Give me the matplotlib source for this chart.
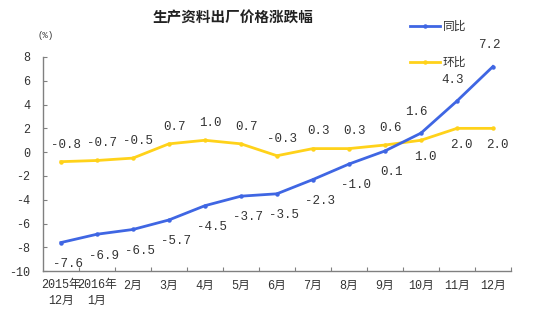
import matplotlib
matplotlib.use("Agg")
import matplotlib.pyplot as plt
from matplotlib.lines import Line2D

# Month categories (Dec 2015 through Dec 2016)
months = ["2015年\n12月", "2016年\n1月", "2月", "3月", "4月", "5月", "6月",
          "7月", "8月", "9月", "10月", "11月", "12月"]
# Year-on-year change (%)
yoy = [-7.6, -6.9, -6.5, -5.7, -4.5, -3.7, -3.5, -2.3, -1.0, 0.1, 1.6, 4.3, 7.2]
# Month-on-month change (%)
mom = [-0.8, -0.7, -0.5, 0.7, 1.0, 0.7, -0.3, 0.3, 0.3, 0.6, 1.0, 2.0, 2.0]
y_ticks = [-10, -8, -6, -4, -2, 0, 2, 4, 6, 8]

BLUE = "#3F66E3"
YELLOW = "#FFD21A"
GRAY = "#808080"
TXT = "#333333"
NUM_FONT = ["Liberation Mono", "Noto Sans CJK SC"]
CJK_FONT = ["Noto Sans CJK SC", "DejaVu Sans"]

fig = plt.figure(figsize=(5.43, 3.22), dpi=100)
ax = fig.add_axes([0.079, 0.158, 0.862, 0.665])

x = list(range(len(months)))
ax.plot(x, yoy, color=BLUE, lw=2.0, marker="o", ms=2.2, zorder=3)
ax.plot(x, mom, color=YELLOW, lw=2.0, marker="o", ms=2.2, zorder=2)

ax.set_xlim(-0.5, len(months) - 0.5)
ax.set_ylim(-10, 8)
ax.set_yticks(y_ticks)
ax.set_yticklabels([str(v) for v in y_ticks], family=NUM_FONT, fontsize=8.5, color=TXT)

ax.set_xticks([i + 0.5 for i in range(len(months))])
ax.set_xticklabels([])
ax.set_xticks(x, minor=True)
ax.set_xticklabels(months, minor=True, family=NUM_FONT, fontsize=8.5,
                   color=TXT, linespacing=1.4)
ax.tick_params(axis="x", which="major", direction="in", length=3, color=GRAY)
ax.tick_params(axis="x", which="minor", length=0, pad=6)
ax.tick_params(axis="y", direction="in", length=3, color=GRAY, pad=9)

for s in ["top", "right"]:
    ax.spines[s].set_visible(False)
for s in ["left", "bottom"]:
    ax.spines[s].set_color(GRAY)
    ax.spines[s].set_linewidth(1.0)

def fmt(v):
    return f"{v:.1f}"

# Year-on-year labels: below-right, except the last three which sit above
for i, v in enumerate(yoy):
    if i >= 10:
        off = (-3, 11)
        va = "bottom"
    else:
        off = (5, -11)
        va = "top"
    ax.annotate(fmt(v), (i, v), xytext=off, textcoords="offset points",
                ha="center", va=va, family=NUM_FONT, fontsize=9, color=TXT)

# Month-on-month labels: above, except the last three which sit below
for i, v in enumerate(mom):
    if i >= 10:
        off = (3, -8)
        va = "top"
    else:
        off = (4, 8)
        va = "bottom"
    ax.annotate(fmt(v), (i, v), xytext=off, textcoords="offset points",
                ha="center", va=va, family=NUM_FONT, fontsize=9, color=TXT)

fig.text(0.43, 0.945, "生产资料出厂价格涨跌幅", ha="center", va="center",
         family=CJK_FONT, fontsize=10.5, fontweight="bold", color="#222222")
fig.text(0.083, 0.89, "(%)", ha="center", va="center",
         family=NUM_FONT, fontsize=6.5, color=TXT)

handles = [Line2D([], [], color=BLUE, lw=2.0, marker="o", ms=2.2),
           Line2D([], [], color=YELLOW, lw=2.0, marker="o", ms=2.2)]
fig.legend(handles, ["同比", "环比"], loc="upper left",
           bbox_to_anchor=(0.735, 0.97), frameon=False,
           prop={"family": CJK_FONT, "size": 8.5}, labelspacing=1.9,
           handlelength=2.6, handletextpad=0.2, labelcolor=TXT)

fig.savefig("out.png", dpi=100)
